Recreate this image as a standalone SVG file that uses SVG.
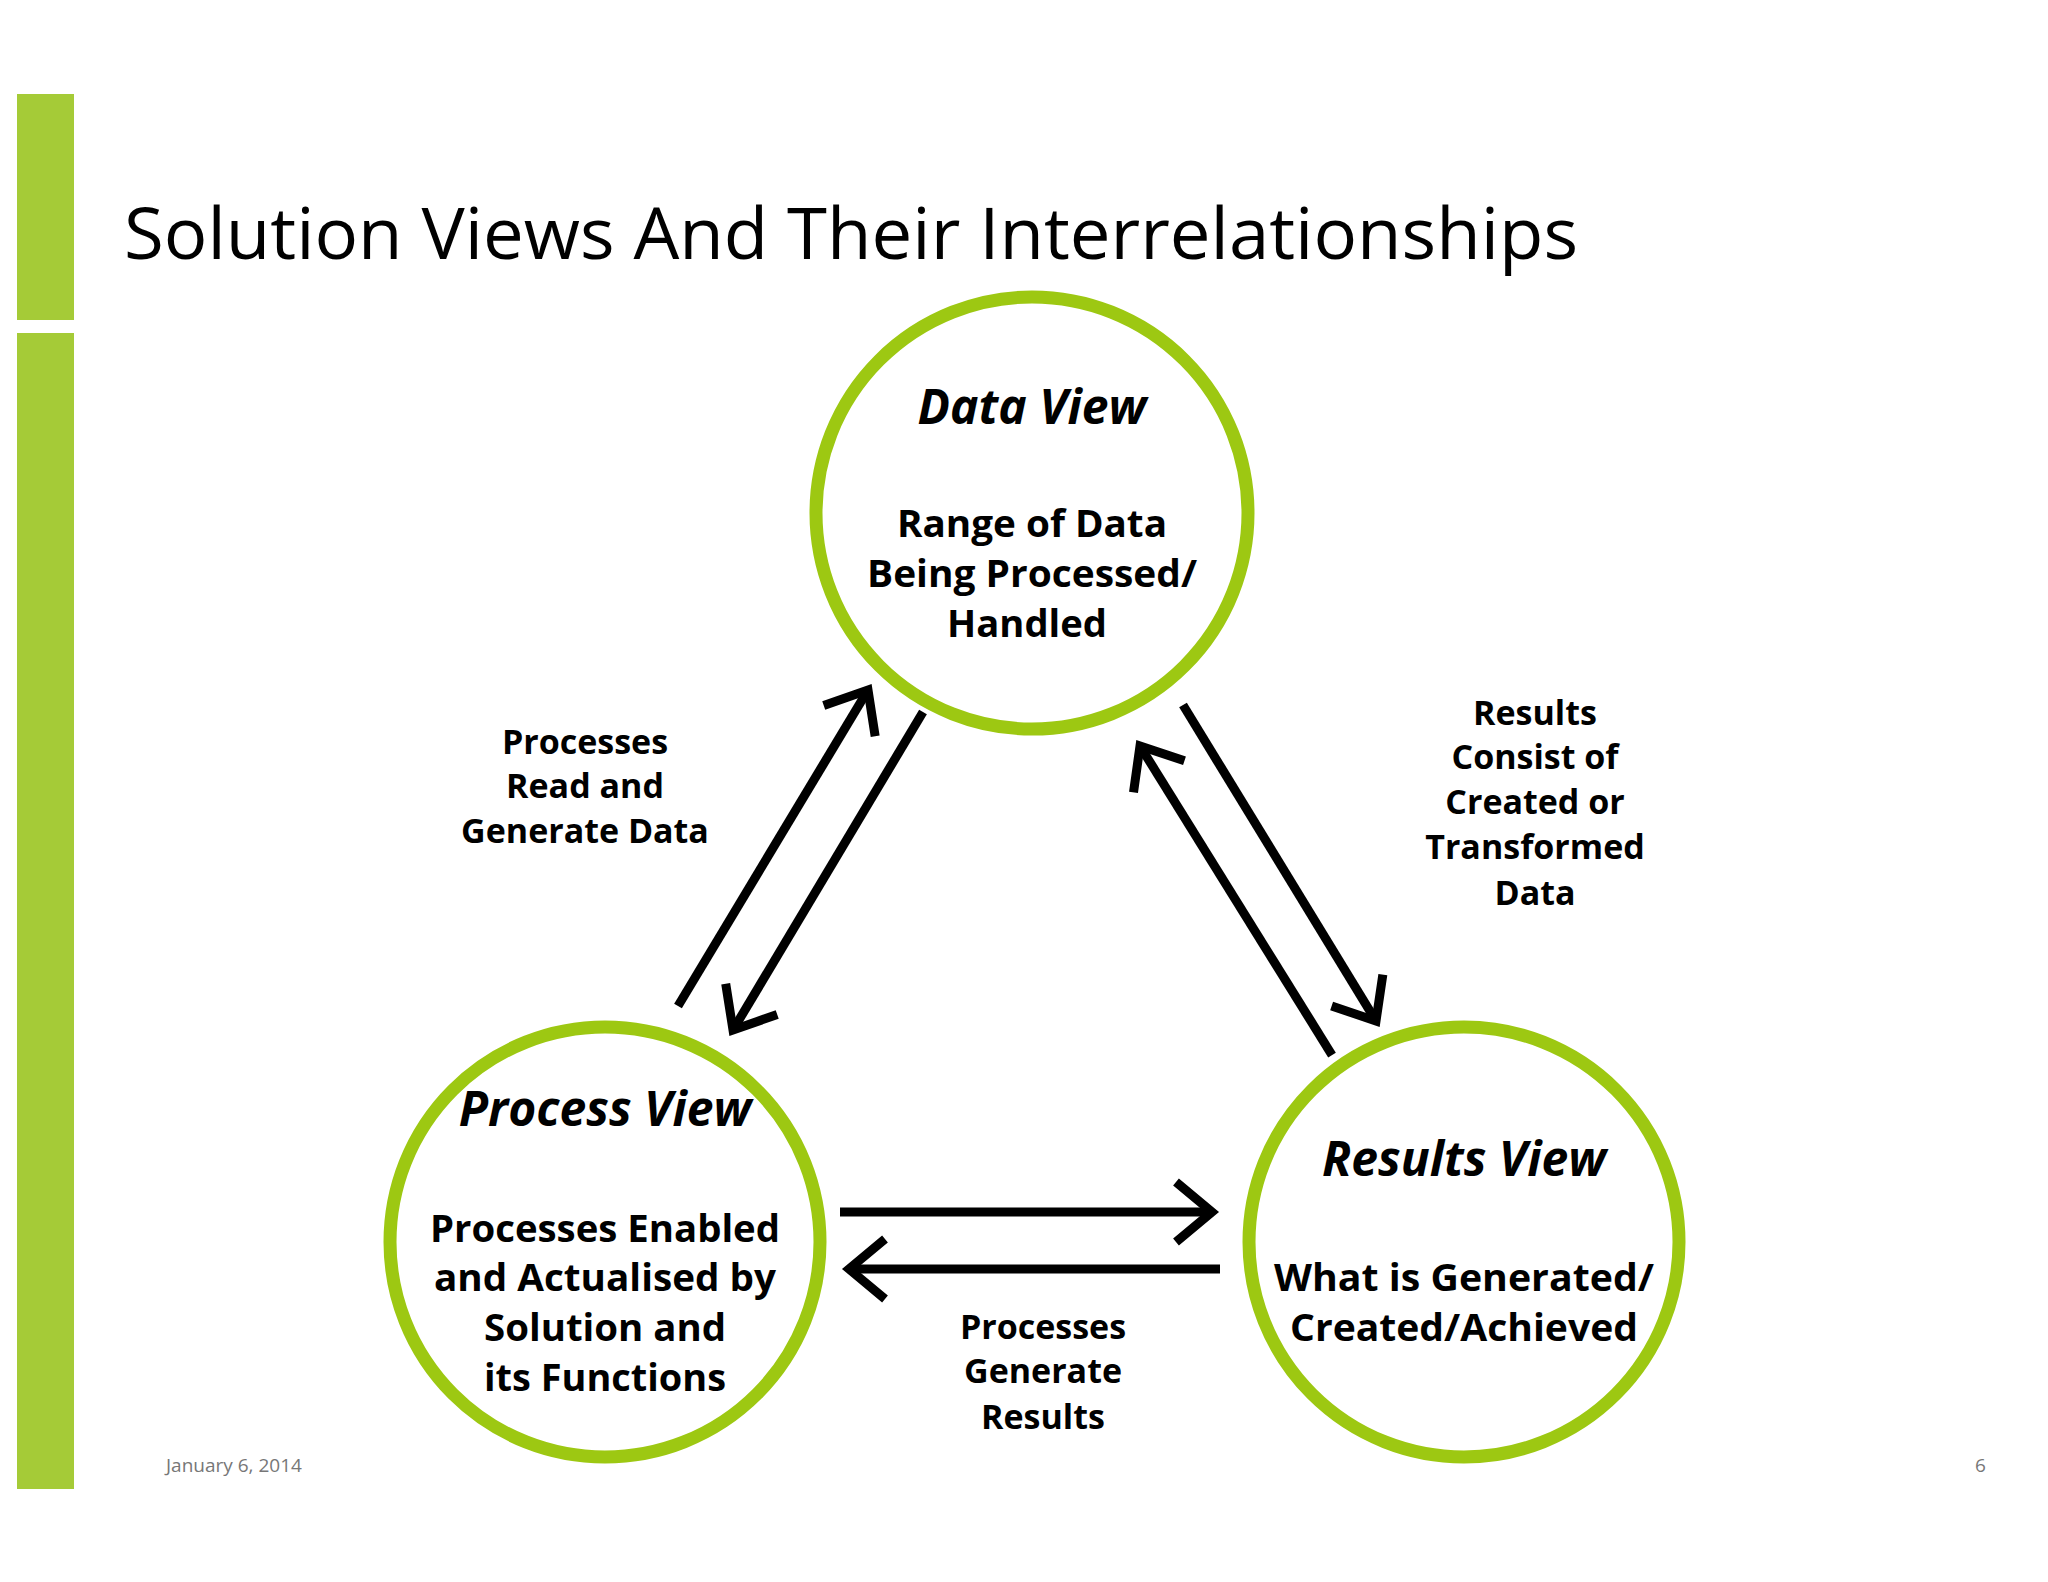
<svg xmlns="http://www.w3.org/2000/svg" width="2048" height="1582" viewBox="0 0 2048 1582">
<style>
.c{fill:#fff;stroke:#9dc812;stroke-width:13}
.t{font-family:"Open Sans","Liberation Sans",sans-serif;font-weight:bold;font-size:38px;text-anchor:middle;fill:#000}
.h{font-style:italic;font-size:48px}
.l{font-size:34px}
.a{stroke:#000;stroke-width:9;fill:none}
</style>
<defs>
<marker id="m" markerUnits="userSpaceOnUse" markerWidth="80" markerHeight="80" refX="40" refY="40" orient="auto" viewBox="0 0 80 80">
<path d="M4 10 L40 40 L4 70" fill="none" stroke="#000" stroke-width="9" stroke-linecap="butt"/>
</marker>
</defs>
<rect width="2048" height="1582" fill="#fff"/>
<rect x="17" y="94" width="57" height="226" fill="#a5cb37"/>
<rect x="17" y="333" width="57" height="1156" fill="#a5cb37"/>
<text x="124" y="259" font-family="Open Sans,Liberation Sans,sans-serif" font-size="72" textLength="1454" lengthAdjust="spacingAndGlyphs">Solution Views And Their Interrelationships</text>
<g id="connectors">
<line class="a" x1="678" y1="1006" x2="868" y2="690" marker-end="url(#m)"/>
<line class="a" x1="923" y1="712" x2="733" y2="1030" marker-end="url(#m)"/>
<line class="a" x1="1332" y1="1055" x2="1140" y2="746" marker-end="url(#m)"/>
<line class="a" x1="1183" y1="705" x2="1376" y2="1021" marker-end="url(#m)"/>
<line class="a" x1="840" y1="1212" x2="1212" y2="1212" marker-end="url(#m)"/>
<line class="a" x1="1220" y1="1269" x2="849" y2="1269" marker-end="url(#m)"/>
</g>
<g id="data">
<circle class="c" cx="1032" cy="513" r="216"/>
<text class="t h" x="1032" y="424">Data View</text>
<text class="t" x="1032" y="537" textLength="270" lengthAdjust="spacingAndGlyphs">Range of Data</text>
<text class="t" x="1032" y="587" textLength="330" lengthAdjust="spacingAndGlyphs">Being Processed/</text>
<text class="t" x="1027" y="637" textLength="160" lengthAdjust="spacingAndGlyphs">Handled</text>
</g>
<g id="process">
<circle class="c" cx="605" cy="1242" r="215"/>
<text class="t h" x="605" y="1126">Process View</text>
<text class="t" x="605" y="1242" textLength="350" lengthAdjust="spacingAndGlyphs">Processes Enabled</text>
<text class="t" x="605" y="1291" textLength="342" lengthAdjust="spacingAndGlyphs">and Actualised by</text>
<text class="t" x="605" y="1341" textLength="242" lengthAdjust="spacingAndGlyphs">Solution and</text>
<text class="t" x="605" y="1391" textLength="242" lengthAdjust="spacingAndGlyphs">its Functions</text>
</g>
<g id="results">
<circle class="c" cx="1464" cy="1242" r="215"/>
<text class="t h" x="1464" y="1176">Results View</text>
<text class="t" x="1464" y="1291" textLength="380" lengthAdjust="spacingAndGlyphs">What is Generated/</text>
<text class="t" x="1464" y="1341" textLength="348" lengthAdjust="spacingAndGlyphs">Created/Achieved</text>
</g>
<g id="labels">
<text class="t l" x="585" y="754">Processes</text>
<text class="t l" x="585" y="798">Read and</text>
<text class="t l" x="585" y="843">Generate Data</text>
<text class="t l" x="1535" y="725">Results</text>
<text class="t l" x="1535" y="769">Consist of</text>
<text class="t l" x="1535" y="814">Created or</text>
<text class="t l" x="1535" y="859">Transformed</text>
<text class="t l" x="1535" y="905">Data</text>
<text class="t l" x="1043" y="1339">Processes</text>
<text class="t l" x="1043" y="1383">Generate</text>
<text class="t l" x="1043" y="1429">Results</text>
</g>
<text x="166" y="1472" font-family="Open Sans,Liberation Sans,sans-serif" font-size="19" fill="#777">January 6, 2014</text>
<text x="1975" y="1472" font-family="Open Sans,Liberation Sans,sans-serif" font-size="19" fill="#777">6</text>
</svg>
